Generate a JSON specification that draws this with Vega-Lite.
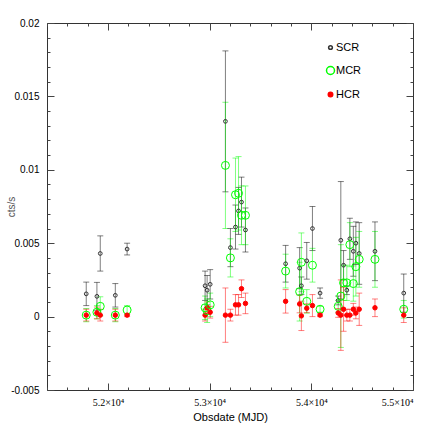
{
  "$schema": "https://vega.github.io/schema/vega-lite/v6.json",
  "width": 366,
  "height": 367,
  "autosize": {"type": "none"},
  "padding": {"left": 47, "top": 23, "right": 23, "bottom": 46},
  "background": "white",
  "config": {
    "view": {"stroke": "#333", "strokeWidth": 1},
    "axis": {"domain": false, "grid": false, "tickColor": "#444", "labelColor": "#000", "titleFontWeight": "normal", "tickWidth": 1}
  },
  "data": {"values": [
    {"t": 51786, "s": "SCR", "v": 0.00155, "e": 0.0008},
    {"t": 51786, "s": "MCR", "v": 0.0001, "e": 0.00045},
    {"t": 51786, "s": "HCR", "v": 0.0001, "e": 0.0004},
    {"t": 51891, "s": "SCR", "v": 0.00138, "e": 0.00095},
    {"t": 51891, "s": "MCR", "v": 0.0003, "e": 0.00045},
    {"t": 51891, "s": "HCR", "v": 0.00025, "e": 0.0004},
    {"t": 51924, "s": "SCR", "v": 0.0043, "e": 0.0012},
    {"t": 51924, "s": "MCR", "v": 0.0007, "e": 0.00065},
    {"t": 51924, "s": "HCR", "v": 0.0001, "e": 0.0004},
    {"t": 52072, "s": "SCR", "v": 0.00145, "e": 0.0008},
    {"t": 52072, "s": "MCR", "v": 0.0001, "e": 0.00045},
    {"t": 52072, "s": "HCR", "v": 0.0001, "e": 0.0004},
    {"t": 52188, "s": "SCR", "v": 0.0046, "e": 0.0004},
    {"t": 52188, "s": "MCR", "v": 0.00045, "e": 0.0003},
    {"t": 52188, "s": "HCR", "v": 0.0001, "e": 0.0001},
    {"t": 52955, "s": "SCR", "v": 0.0021, "e": 0.001},
    {"t": 52955, "s": "MCR", "v": 0.0006, "e": 0.0008},
    {"t": 52955, "s": "HCR", "v": 0.0001, "e": 0.0004},
    {"t": 52975, "s": "SCR", "v": 0.0018, "e": 0.001},
    {"t": 52975, "s": "MCR", "v": 0.0004, "e": 0.0008},
    {"t": 52975, "s": "HCR", "v": 0.0006, "e": 0.0004},
    {"t": 53005, "s": "SCR", "v": 0.0022, "e": 0.001},
    {"t": 53005, "s": "MCR", "v": 0.0008, "e": 0.0008},
    {"t": 53005, "s": "HCR", "v": 0.0003, "e": 0.0004},
    {"t": 53155, "s": "SCR", "v": 0.0133, "e": 0.0048},
    {"t": 53155, "s": "MCR", "v": 0.0103, "e": 0.0043},
    {"t": 53155, "s": "HCR", "v": 0.0001, "e": 0.00185},
    {"t": 53204, "s": "SCR", "v": 0.0047, "e": 0.0013},
    {"t": 53204, "s": "MCR", "v": 0.004, "e": 0.0013},
    {"t": 53204, "s": "HCR", "v": 0.0001, "e": 0.0004},
    {"t": 53254, "s": "SCR", "v": 0.0061, "e": 0.0015},
    {"t": 53254, "s": "MCR", "v": 0.0083, "e": 0.0025},
    {"t": 53254, "s": "HCR", "v": 0.0008, "e": 0.0007},
    {"t": 53284, "s": "SCR", "v": 0.0072, "e": 0.0016},
    {"t": 53284, "s": "MCR", "v": 0.0084, "e": 0.0025},
    {"t": 53284, "s": "HCR", "v": 0.0008, "e": 0.0007},
    {"t": 53313, "s": "SCR", "v": 0.0078, "e": 0.0017},
    {"t": 53313, "s": "MCR", "v": 0.0069, "e": 0.002},
    {"t": 53313, "s": "HCR", "v": 0.0019, "e": 0.0006},
    {"t": 53352, "s": "SCR", "v": 0.0059, "e": 0.0015},
    {"t": 53352, "s": "MCR", "v": 0.0069, "e": 0.002},
    {"t": 53352, "s": "HCR", "v": 0.0009, "e": 0.0007},
    {"t": 53747, "s": "SCR", "v": 0.0036, "e": 0.00125},
    {"t": 53747, "s": "MCR", "v": 0.0031, "e": 0.00115},
    {"t": 53747, "s": "HCR", "v": 0.00104, "e": 0.0008},
    {"t": 53885, "s": "SCR", "v": 0.0033, "e": 0.0014},
    {"t": 53885, "s": "MCR", "v": 0.0017, "e": 0.002},
    {"t": 53885, "s": "HCR", "v": 0.00086, "e": 0.0006},
    {"t": 53902, "s": "SCR", "v": 0.0021, "e": 0.0006},
    {"t": 53902, "s": "MCR", "v": 0.0037, "e": 0.002},
    {"t": 53902, "s": "HCR", "v": 0.00005, "e": 0.001},
    {"t": 53955, "s": "SCR", "v": 0.0038, "e": 0.00125},
    {"t": 53955, "s": "MCR", "v": 0.00104, "e": 0.0008},
    {"t": 53955, "s": "HCR", "v": 0.00057, "e": 0.0003},
    {"t": 54011, "s": "SCR", "v": 0.006, "e": 0.0015},
    {"t": 54011, "s": "MCR", "v": 0.0035, "e": 0.00115},
    {"t": 54011, "s": "HCR", "v": 0.00075, "e": 0.00075},
    {"t": 54086, "s": "SCR", "v": 0.0016, "e": 0.00035},
    {"t": 54086, "s": "MCR", "v": 0.0005, "e": 0.0002},
    {"t": 54086, "s": "HCR", "v": 0.0001, "e": 0.0001},
    {"t": 54264, "s": "SCR", "v": 0.0011, "e": 0.0003},
    {"t": 54264, "s": "MCR", "v": 0.0007, "e": 0.0004},
    {"t": 54264, "s": "HCR", "v": 0.00025, "e": 0.0003},
    {"t": 54290, "s": "SCR", "v": 0.0052, "e": 0.004},
    {"t": 54290, "s": "MCR", "v": 0.0014, "e": 0.0035},
    {"t": 54290, "s": "HCR", "v": 0.0001, "e": 0.0024},
    {"t": 54317, "s": "SCR", "v": 0.0035, "e": 0.001},
    {"t": 54317, "s": "MCR", "v": 0.0023, "e": 0.0012},
    {"t": 54317, "s": "HCR", "v": 0.0005, "e": 0.0015},
    {"t": 54349, "s": "SCR", "v": 0.0018, "e": 0.0003},
    {"t": 54349, "s": "MCR", "v": 0.0023, "e": 0.0012},
    {"t": 54349, "s": "HCR", "v": 0.0001, "e": 0.0004},
    {"t": 54379, "s": "SCR", "v": 0.0053, "e": 0.0014},
    {"t": 54379, "s": "MCR", "v": 0.0049, "e": 0.0015},
    {"t": 54379, "s": "HCR", "v": 0.0001, "e": 0.0004},
    {"t": 54413, "s": "SCR", "v": 0.00445, "e": 0.0017},
    {"t": 54413, "s": "MCR", "v": 0.00225, "e": 0.0012},
    {"t": 54413, "s": "HCR", "v": 0.0005, "e": 0.0004},
    {"t": 54438, "s": "SCR", "v": 0.005, "e": 0.00145},
    {"t": 54438, "s": "MCR", "v": 0.0034, "e": 0.002},
    {"t": 54438, "s": "HCR", "v": 0.00025, "e": 0.0004},
    {"t": 54471, "s": "SCR", "v": 0.0043, "e": 0.0021},
    {"t": 54471, "s": "MCR", "v": 0.0039, "e": 0.0019},
    {"t": 54471, "s": "HCR", "v": 0.0005, "e": 0.0011},
    {"t": 54626, "s": "SCR", "v": 0.00445, "e": 0.002},
    {"t": 54626, "s": "MCR", "v": 0.0039, "e": 0.0019},
    {"t": 54626, "s": "HCR", "v": 0.0006, "e": 0.0006},
    {"t": 54909, "s": "SCR", "v": 0.0016, "e": 0.0013},
    {"t": 54909, "s": "MCR", "v": 0.0005, "e": 0.0006},
    {"t": 54909, "s": "HCR", "v": 0.0001, "e": 0.0005}
  ]},
  "layer": [
    {
      "mark": {"type": "errorbar", "ticks": {"size": 6, "opacity": 0.5}, "rule": {"opacity": 0.5}},
      "encoding": {
        "x": {"field": "t", "type": "quantitative", "scale": {"domain": [51400, 55000], "nice": false, "zero": false},
          "axis": {"orient": "bottom", "values": [52000, 53000, 54000, 55000], "tickSize": -7, "labelPadding": 14,
            "labelExpr": "format(datum.value/10000,'.1f') + '×10⁴'", "labelFont": "Liberation Serif", "labelFontSize": 10,
            "title": "Obsdate (MJD)", "titleFont": "Liberation Sans", "titleFontSize": 11, "titleColor": "#000", "titlePadding": 4}},
        "y": {"field": "v", "type": "quantitative", "scale": {"domain": [-0.005, 0.02], "nice": false, "zero": false},
          "axis": {"orient": "left", "values": [-0.005, 0, 0.005, 0.01, 0.015, 0.02], "tickSize": -7, "labelPadding": 15,
            "labelExpr": "datum.value + ''", "labelFont": "Liberation Sans", "labelFontSize": 10,
            "title": "cts/s", "titleFont": "Liberation Sans", "titleFontSize": 10, "titleColor": "#555", "titleX": -31}},
        "yError": {"field": "e"},
        "color": {"field": "s", "type": "nominal", "scale": {"domain": ["HCR", "MCR", "SCR"], "range": ["red", "#00ff00", "black"]}, "legend": null}
      }
    },
    {
      "mark": {"type": "point", "shape": "circle", "strokeWidth": 1, "opacity": 1},
      "encoding": {
        "x": {"field": "t", "type": "quantitative",
          "axis": {"orient": "bottom", "values": [51400, 51600, 51800, 52200, 52400, 52600, 52800, 53200, 53400, 53600, 53800, 54200, 54400, 54600, 54800], "tickSize": -3, "labels": false, "title": null}},
        "y": {"field": "v", "type": "quantitative",
          "axis": {"orient": "left", "values": [-0.004, -0.003, -0.002, -0.001, 0.001, 0.002, 0.003, 0.004, 0.006, 0.007, 0.008, 0.009, 0.011, 0.012, 0.013, 0.014, 0.016, 0.017, 0.018, 0.019], "tickSize": -3, "labels": false, "title": null}},
        "stroke": {"field": "s", "type": "nominal", "scale": {"domain": ["SCR", "MCR", "HCR"], "range": ["#333", "#00ff00", "red"]},
          "legend": {"title": null, "orient": "none", "legendX": 278, "legendY": 19, "rowPadding": 10, "labelFont": "Liberation Sans", "labelFontSize": 11, "labelOffset": 0,
            "encode": {"labels": {"update": {"fill": {"signal": "datum.value == 'SCR' ? 'black' : datum.value == 'MCR' ? '#00ff00' : 'red'"}}}}}},
        "fill": {"field": "s", "type": "nominal", "scale": {"domain": ["SCR", "MCR", "HCR"], "range": ["transparent", "transparent", "red"]},
          "legend": {"title": null, "orient": "none", "legendX": 278, "legendY": 19, "rowPadding": 10, "labelFont": "Liberation Sans", "labelFontSize": 11, "labelOffset": 0,
            "encode": {"labels": {"update": {"fill": {"signal": "datum.value == 'SCR' ? 'black' : datum.value == 'MCR' ? '#00ff00' : 'red'"}}}}}},
        "size": {"field": "s", "type": "nominal", "scale": {"type": "ordinal", "domain": ["SCR", "MCR", "HCR"], "range": [14, 64, 20]},
          "legend": {"title": null, "orient": "none", "legendX": 278, "legendY": 19, "rowPadding": 10, "labelFont": "Liberation Sans", "labelFontSize": 11, "labelOffset": 0,
            "encode": {"labels": {"update": {"fill": {"signal": "datum.value == 'SCR' ? 'black' : datum.value == 'MCR' ? '#00ff00' : 'red'"}}}}}}
      }
    },
    {
      "mark": {"type": "point", "opacity": 0},
      "encoding": {
        "x": {"field": "t", "type": "quantitative",
          "axis": {"orient": "top", "values": [52000, 53000, 54000, 55000], "tickSize": -7, "labels": false, "title": null}},
        "y": {"field": "v", "type": "quantitative",
          "axis": {"orient": "right", "values": [-0.005, 0, 0.005, 0.01, 0.015, 0.02], "tickSize": -7, "labels": false, "title": null}}
      }
    },
    {
      "mark": {"type": "point", "opacity": 0},
      "encoding": {
        "x": {"field": "t", "type": "quantitative",
          "axis": {"orient": "top", "values": [51400, 51600, 51800, 52200, 52400, 52600, 52800, 53200, 53400, 53600, 53800, 54200, 54400, 54600, 54800], "tickSize": -3, "labels": false, "title": null}},
        "y": {"field": "v", "type": "quantitative",
          "axis": {"orient": "right", "values": [-0.004, -0.003, -0.002, -0.001, 0.001, 0.002, 0.003, 0.004, 0.006, 0.007, 0.008, 0.009, 0.011, 0.012, 0.013, 0.014, 0.016, 0.017, 0.018, 0.019], "tickSize": -3, "labels": false, "title": null}}
      }
    }
  ],
  "resolve": {"axis": {"x": "independent", "y": "independent"}}
}
